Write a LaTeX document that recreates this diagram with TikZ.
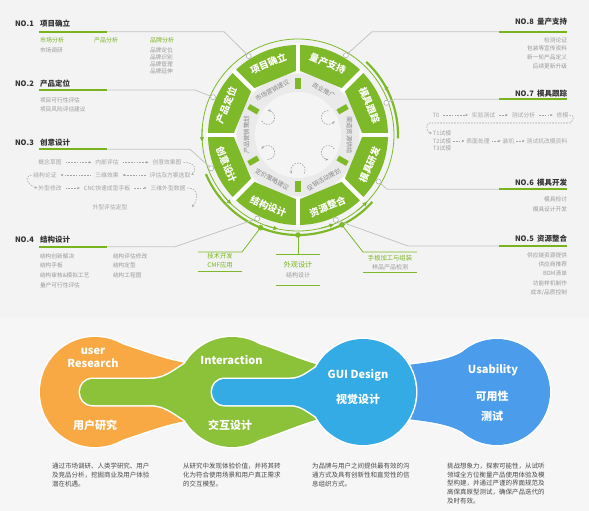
\documentclass[tikz,border=0pt]{standalone}
\usepackage{fontspec}
\setmainfont{Noto Sans CJK SC}
\usetikzlibrary{arrows.meta}
\definecolor{bgc}{HTML}{F3F3F3}
\definecolor{bgd}{HTML}{F6F6F6}
\definecolor{wg}{HTML}{7DB928}
\definecolor{lg}{HTML}{78B41E}
\definecolor{dtxt}{HTML}{333333}
\definecolor{gtxt}{HTML}{9A9A9A}
\definecolor{ftxt}{HTML}{A5A5A5}
\definecolor{itxt}{HTML}{8A8A8A}
\definecolor{gline}{HTML}{C4C4C4}
\definecolor{ringg}{HTML}{EAEAEA}
\definecolor{innerg}{HTML}{F4F4F4}
\definecolor{org}{HTML}{F8A944}
\definecolor{grn}{HTML}{8CC23A}
\definecolor{lbl}{HTML}{34ABE4}
\definecolor{dbl}{HTML}{4B9CEA}
\definecolor{ptxt}{HTML}{4A4A4A}
\newcommand{\myfs}[1]{\fontsize{#1}{#1}\selectfont}
\begin{document}
\begin{tikzpicture}[x=1pt,y=-1pt,
 every node/.style={inner sep=0pt,outer sep=0pt},
 notxt/.style={font=\myfs{7.5}\bfseries,text=dtxt,anchor=west},
 ttl/.style={font=\myfs{7.5}\bfseries,text=dtxt},
 sub/.style={font=\myfs{6},text=lg,anchor=west},
 itm/.style={font=\myfs{5.7},text=gtxt,anchor=west},
 itmr/.style={font=\myfs{5.7},text=gtxt,anchor=east},
 flw/.style={font=\myfs{5.8},text=ftxt},
 gl/.style={draw=gline,line width=0.8pt},
 grl/.style={draw=lg,line width=2pt},
 fa/.style={draw=ftxt,line width=0.55pt,dash pattern=on 1.6pt off 1.2pt,-{Stealth[length=2.6pt,width=2.4pt]}},
 fsh/.style={fa,shorten <=4pt,shorten >=4pt},
 fsh2/.style={fa,shorten <=2pt,shorten >=2pt},
 segt/.style={font=\myfs{9.5}\bfseries,text=white},
 innt/.style={font=\myfs{6.3},text=itxt},
 swirl/.style={draw=gray!70,line width=0.7pt,dash pattern=on 1.5pt off 1.3pt,-{Stealth[length=2.8pt,width=2.6pt]}},
 ringa/.style={draw=wg,line width=0.9pt,-{Triangle[length=4.5pt,width=4pt]}},
 cdot/.style={circle,draw=gray!60,fill=white,line width=0.6pt,minimum size=5pt},
 gdot/.style={circle,fill=wg,minimum size=5.5pt},
 gcl/.style={draw=wg,line width=0.8pt},
 gsub/.style={font=\myfs{6.3},text=lg},
 gsubb/.style={font=\myfs{7.2},text=lg},
 gitm/.style={font=\myfs{6},text=gtxt},
 outl/.style={draw=white,line width=3pt},
 bt/.style={font=\myfs{11}\bfseries,text=white},
 para/.style={font={\fontsize{6.5}{9}\selectfont},text=ptxt,align=left,anchor=north west}
]
\useasboundingbox (0,0) rectangle (589,511);
\fill[bgc] (0,0) rectangle (589,511);
\fill[bgd] (0,318) rectangle (589,511);

% ---------------- wheel ----------------
\begin{scope}[shift={(298,135)},yscale=-1]
 \fill[ringg] (0,0) circle[radius=61];
 \fill[innerg] (0,0) circle[radius=43];
 \foreach \ang in {112.5,67.5,22.5,-22.5,-67.5,-112.5,-157.5,157.5}{
   \fill[wg] ({\ang-22.5}:65) -- ({\ang-22.5}:90) arc[start angle={\ang-22.5},end angle={\ang+22.5},radius=90] -- ({\ang+22.5}:65) -- cycle;
 }
 \foreach \g in {0,45,...,315} \draw[white,line width=4.5pt] (\g:62) -- (\g:92);
 \foreach \ang/\ro/\tx [count=\i] in {112.5/22.5/项目确立,67.5/-22.5/量产支持,22.5/-67.5/模具跟踪,-22.5/67.5/模具研发,-67.5/22.5/资源整合,-112.5/-22.5/结构设计,-157.5/-67.5/创意设计,157.5/67.5/产品定位}
   \node[segt,rotate=\ro] (s\i) at (\ang:77.5) {\tx};
 \foreach \b in {30,90,...,330} \draw[wg,line width=5.5pt] (\b:46) -- (\b:57);
 \foreach \ang/\ro/\tx [count=\i] in {120/30/市场营销建议,60/-30/商业推广,0/-90/渠道资源供给,-60/30/促销活动策划,-120/-30/定价策略建议,180/90/产品营销策划}
   \node[innt,rotate=\ro] (m\i) at (\ang:51.5) {\tx};
 \foreach \s in {30,150,210,270,330}
   \draw[swirl] (\s:35) ++({\s+60}:7) arc[start angle={\s+60},end angle={\s+300},radius=7];
 \draw[wg,line width=0.8pt] (0,0) circle[radius=96];
 \draw[wg,line width=2.2pt] (203:100) arc[start angle=203,end angle=318,radius=100];
 \draw[wg,line width=2.2pt] (-2:100) arc[start angle=-2,end angle=47,radius=100];
 \draw[ringa] (176:96) arc[start angle=176,end angle=184,radius=96];
 \draw[ringa] (218:96) arc[start angle=218,end angle=226,radius=96];
 \draw[ringa] (250:96) arc[start angle=250,end angle=258,radius=96];
 \draw[ringa] (284:96) arc[start angle=284,end angle=292,radius=96];
 \draw[ringa] (308:96) arc[start angle=308,end angle=316,radius=96];
 \draw[ringa] (22:100) arc[start angle=22,end angle=30,radius=100];
 \coordinate (d1) at (122:93);
 \coordinate (d2) at (156:93);
 \coordinate (d3) at (201:93);
 \coordinate (d4) at (244:93);
 \coordinate (d5) at (294:93);
 \coordinate (d6) at (330:93);
 \coordinate (d7) at (20:94);
 \coordinate (d8) at (59:93);
 \coordinate (gd1) at (248:100);
 \coordinate (gd2) at (270:100);
 \coordinate (gd3) at (296:100);
\end{scope}

% ---------------- NO.1 ----------------
\node[notxt] (no1) at (15,24) {NO.1};
\node[ttl,anchor=west] (t1) at (40,24) {项目确立};
\coordinate (l1a) at (39,31.7); \coordinate (l1b) at (107,31.7); \coordinate (k1) at (224,31.7);
\draw[gl] (l1a) -- (k1) -- (d1);
\draw[grl] (l1a) -- (l1b);
\node[sub] (a11) at (40,40.7) {市场分析};
\node[sub] (a12) at (94,40.7) {产品分析};
\node[sub] (a13) at (150,40.7) {品牌分析};
\node[itm] (a14) at (40,50.7) {市场调研};
\node[itm] (a15) at (150,50.7) {品牌定位};
\node[itm] (a16) at (150,57.5) {品牌识别};
\node[itm] (a17) at (150,64.2) {品牌管理};
\node[itm] (a18) at (150,71) {品牌延伸};

% ---------------- NO.2 ----------------
\node[notxt] (no2) at (15,83.3) {NO.2};
\node[ttl,anchor=west] (t2) at (40,83.3) {产品定位};
\coordinate (l2a) at (39,90); \coordinate (l2b) at (107,90); \coordinate (k2) at (195,90);
\draw[gl] (l2a) -- (k2) -- (d2);
\draw[grl] (l2a) -- (l2b);
\node[itm] (a21) at (40,100) {项目可行性评估};
\node[itm] (a22) at (40,109.3) {项目风险评估建议};

% ---------------- NO.3 ----------------
\node[notxt] (no3) at (15,142.7) {NO.3};
\node[ttl,anchor=west] (t3) at (40,142.7) {创意设计};
\coordinate (l3a) at (39,149.3); \coordinate (l3b) at (107,149.3); \coordinate (k3) at (190,149.3);
\draw[gl] (l3a) -- (k3) -- (d3);
\draw[grl] (l3a) -- (l3b);
\node[flw] (f1) at (50,162.3) {概念草图};
\node[flw] (f2) at (107,162.3) {内部评估};
\node[flw] (f3) at (167,162.3) {创意效果图};
\node[flw] (f4) at (45,175) {结构论证};
\node[flw] (f5) at (107,175) {三维效果};
\node[flw] (f6) at (170,175) {评估及方案选取};
\node[flw] (f7) at (50,188) {外型修改};
\node[flw] (f8) at (107,188) {CNC快速成型手板};
\node[flw] (f9) at (168,188) {三维外型数据};
\node[flw] (f10) at (110,207) {外型评估定型};
\coordinate (e3) at (192,207);
\draw[fsh] (f1) -- (f2);
\draw[fsh] (f2) -- (f3);
\draw[fsh] (f5) -- (f4);
\draw[fsh] (f6) -- (f5);
\draw[fsh] (f7) -- (f8);
\draw[fsh] (f8) -- (f9);
\draw[fa] ([xshift=2pt]f3.east) .. controls +(12,0) and +(6,-5) .. ([xshift=1pt]f6.east);
\draw[fa] ([xshift=-2pt]f4.west) .. controls +(-9,2) and +(-8,-2) .. ([xshift=-1pt]f7.west);
\draw[fa] ([xshift=2pt]f9.east) .. controls +(12,0) and +(6,-7) .. (e3);

% ---------------- NO.4 ----------------
\node[notxt] (no4) at (15,239.3) {NO.4};
\node[ttl,anchor=west] (t4) at (40,239.3) {结构设计};
\coordinate (l4a) at (39,246.7); \coordinate (l4b) at (107,246.7); \coordinate (k4) at (175,246.7);
\draw[gl] (l4a) -- (k4) -- (d4);
\draw[grl] (l4a) -- (l4b);
\node[itm] (a41) at (40,256) {结构创新解决};
\node[itm] (a42) at (40,265.7) {结构手板};
\node[itm] (a43) at (40,275.5) {结构审核\&模拟工艺};
\node[itm] (a44) at (40,285) {量产可行性评估};
\node[itm] (a45) at (113,256) {结构评估修改};
\node[itm] (a46) at (113,265.7) {结构定型};
\node[itm] (a47) at (113,275.5) {结构工程图};

% ---------------- NO.8 ----------------
\node[notxt] (no8) at (515,22) {NO.8};
\node[ttl,anchor=east] (t8) at (567,22) {量产支持};
\coordinate (l8a) at (567,31.7); \coordinate (l8b) at (499,31.7); \coordinate (k8) at (372,31.7);
\draw[gl] (d8) -- (k8) -- (l8a);
\draw[grl] (l8b) -- (l8a);
\node[itmr] (a81) at (567,40.7) {检测论证};
\node[itmr] (a82) at (567,48.7) {包装等宣传资料};
\node[itmr] (a83) at (567,57.7) {新一轮产品定义};
\node[itmr] (a84) at (567,66.7) {后续更新升级};

% ---------------- NO.7 ----------------
\node[notxt] (no7) at (515,93.3) {NO.7};
\node[ttl,anchor=east] (t7) at (567,93.3) {模具跟踪};
\coordinate (l7a) at (567,99.3); \coordinate (l7b) at (499,99.3); \coordinate (k7) at (395,99.3);
\draw[gl] (d7) -- (k7) -- (l7a);
\draw[grl] (l7b) -- (l7a);
\node[flw] (g1) at (436,115) {T0};
\node[flw] (g2) at (483.5,115) {实验测试};
\node[flw] (g3) at (523.5,115) {测试分析};
\node[flw] (g4) at (562.5,115) {修模};
\node[flw] (g5) at (442,133) {T1试模};
\node[flw] (g6) at (442,141) {T2试模};
\node[flw] (g7) at (442,148.5) {T3试模};
\node[flw] (g8) at (478,141) {表面处理};
\node[flw] (g9) at (508.5,141) {装机};
\node[flw] (g10) at (547,141) {测试机改模资料};
\coordinate (r1) at (570,123); \coordinate (r2) at (429,123);
\draw[fsh] (g1) -- (g2);
\draw[fsh] (g2) -- (g3);
\draw[fsh] (g3) -- (g4);
\draw[fa] ([xshift=1pt]g4.east) .. controls +(6,0) and +(4,-3) .. (r1) -- (r2) .. controls +(-4,2) and +(-5,0) .. ([xshift=-1pt]g5.west);
\draw[fsh2] (g6) -- (g8);
\draw[fsh2] (g8) -- (g9);
\draw[fsh2] (g9) -- (g10);

% ---------------- NO.6 ----------------
\node[notxt] (no6) at (515,182.7) {NO.6};
\node[ttl,anchor=east] (t6) at (567,182.7) {模具开发};
\coordinate (l6a) at (567,189.3); \coordinate (l6b) at (499,189.3); \coordinate (k6) at (387,189.3);
\draw[gl] (d6) -- (k6) -- (l6a);
\draw[grl] (l6b) -- (l6a);
\node[itmr] (a61) at (567,199) {模具检讨};
\node[itmr] (a62) at (567,209) {模具设计开发};

% ---------------- NO.5 ----------------
\node[notxt] (no5) at (515,239) {NO.5};
\node[ttl,anchor=east] (t5) at (567,239) {资源整合};
\coordinate (l5a) at (567,246); \coordinate (l5b) at (499,246); \coordinate (k5) at (408,246);
\draw[gl] (d5) -- (k5) -- (l5a);
\draw[grl] (l5b) -- (l5a);
\node[itmr] (a51) at (567,255) {供应链资源提供};
\node[itmr] (a52) at (567,264.3) {供应商推荐};
\node[itmr] (a53) at (567,273.7) {BOM清单};
\node[itmr] (a54) at (567,283.3) {功能样机制作};
\node[itmr] (a55) at (567,292.7) {成本/品质控制};

% ---------------- green callouts under wheel ----------------
\coordinate (c1a) at (242,252); \coordinate (c1b) at (198,252);
\coordinate (c1c) at (198,271.5); \coordinate (c1d) at (242,271.5);
\draw[gcl] (gd1) -- (c1a) -- (c1b);
\draw[gcl] (c1c) -- (c1d);
\node[gsub] (b11) at (220,256.3) {技术开发};
\node[gsub] (b12) at (220,265.3) {CMF应用};

\coordinate (c2a) at (298,254); \coordinate (c2l) at (276,254); \coordinate (c2r) at (320,254);
\coordinate (c2c) at (276,285); \coordinate (c2d) at (320,285);
\draw[gcl] (gd2) -- (c2a);
\draw[gcl] (c2l) -- (c2r);
\draw[gcl] (c2c) -- (c2d);
\node[gsubb] (b21) at (298,264.3) {外观设计};
\node[gitm] (b22) at (298,275) {结构设计};

\coordinate (c3a) at (363,252); \coordinate (c3b) at (417,252);
\coordinate (c3c) at (363,272.5); \coordinate (c3d) at (417,272.5);
\draw[gcl] (gd3) -- (c3a) -- (c3b);
\draw[gcl] (c3c) -- (c3d);
\node[gsub] (b31) at (390,258) {手板加工与组装};
\node[gitm] (b32) at (390,267) {样品产品检测};

% dots
\foreach \d in {d1,d2,d3,d4,d5,d6,d7,d8} \node[cdot] (p\d) at (\d) {};
\foreach \d in {gd1,gd2,gd3} \node[gdot] (p\d) at (\d) {};

% ---------------- blobs ----------------
% orange
\draw[outl] (95,392) circle[radius=55];
\draw[outl] (122.5,344.4) .. controls (140,350) and (166,360) .. (186,363) -- (205,392) -- (186,421) .. controls (166,424) and (140,434) .. (122.5,439.6) -- (95,392) -- cycle;
\fill[org] (95,392) circle[radius=55];
\fill[org] (122.5,344.4) .. controls (140,350) and (166,360) .. (186,363) -- (205,392) -- (186,421) .. controls (166,424) and (140,434) .. (122.5,439.6) -- (95,392) -- cycle;
% green
\draw[outl] (232,392) circle[radius=55];
\draw[outl] (150,379) .. controls (166,379) and (174,370) .. (188,362) -- (205,392) -- (188,422) .. controls (174,414) and (166,405) .. (150,405) -- (93,405) .. controls (75.7,405) and (75.7,379) .. (93,379) -- cycle;
\draw[outl] (259.5,344.4) .. controls (278,350) and (300,360) .. (319,365) -- (335,392) -- (319,419) .. controls (300,424) and (278,434) .. (259.5,439.6) -- (232,392) -- cycle;
\fill[grn] (232,392) circle[radius=55];
\fill[grn] (150,379) .. controls (166,379) and (174,370) .. (188,362) -- (205,392) -- (188,422) .. controls (174,414) and (166,405) .. (150,405) -- (93,405) .. controls (75.7,405) and (75.7,379) .. (93,379) -- cycle;
\fill[grn] (259.5,344.4) .. controls (278,350) and (300,360) .. (319,365) -- (335,392) -- (319,419) .. controls (300,424) and (278,434) .. (259.5,439.6) -- (232,392) -- cycle;
% dark blue
\draw[outl] (497,392) circle[radius=53];
\draw[outl] (471,346) .. controls (455,360) and (430,362) .. (408,365) -- (390,392) -- (408,419) .. controls (430,422) and (455,424) .. (471,438) -- (497,392) -- cycle;
\fill[dbl] (497,392) circle[radius=53];
\fill[dbl] (471,346) .. controls (455,360) and (430,362) .. (408,365) -- (390,392) -- (408,419) .. controls (430,422) and (455,424) .. (471,438) -- (497,392) -- cycle;
% light blue
\draw[outl] (363,392) circle[radius=53];
\draw[outl] (290,379) .. controls (302,379) and (308,372) .. (320,365) -- (335,392) -- (320,419) .. controls (308,412) and (302,405) .. (290,405) -- (225,405) .. controls (207.7,405) and (207.7,379) .. (225,379) -- cycle;
\fill[lbl] (363,392) circle[radius=53];
\fill[lbl] (290,379) .. controls (302,379) and (308,372) .. (320,365) -- (335,392) -- (320,419) .. controls (308,412) and (302,405) .. (290,405) -- (225,405) .. controls (207.7,405) and (207.7,379) .. (225,379) -- cycle;

\node[bt] (u1) at (93,351) {user};
\node[bt] (u2) at (93,363.5) {Research};
\node[bt] (u3) at (95,425) {用户研究};
\node[bt] (i1) at (231.5,360) {Interaction};
\node[bt] (i2) at (230,425) {交互设计};
\node[bt] (v1) at (358,375) {GUI Design};
\node[bt] (v2) at (358,399) {视觉设计};
\node[bt] (w1) at (493,370) {Usability};
\node[bt] (w2) at (492,396) {可用性};
\node[bt] (w3) at (492,416) {测试};

% ---------------- paragraphs ----------------
\node[para] (q1) at (52,463) {通过市场调研、人类学研究、用户\\及竞品分析，挖掘商业及用户体验\\潜在机遇。};
\node[para] (q2) at (183,463) {从研究中发现体验价值，并将其转\\化为符合使用场景和用户真正需求\\的交互模型。};
\node[para] (q3) at (312,463) {为品牌与用户之间提供最有效的沟\\通方式及具有创新性和直觉性的信\\息组织方式。};
\node[para,font={\fontsize{6.5}{8.75}\selectfont}] (q4) at (447,463) {挑战想象力，探索可能性，从试听\\领域全方位衡量产品使用体验及模\\型构建，并通过严谨的界面规范及\\高保真原型测试，确保产品迭代的\\及时有效。};
\end{tikzpicture}
\end{document}
